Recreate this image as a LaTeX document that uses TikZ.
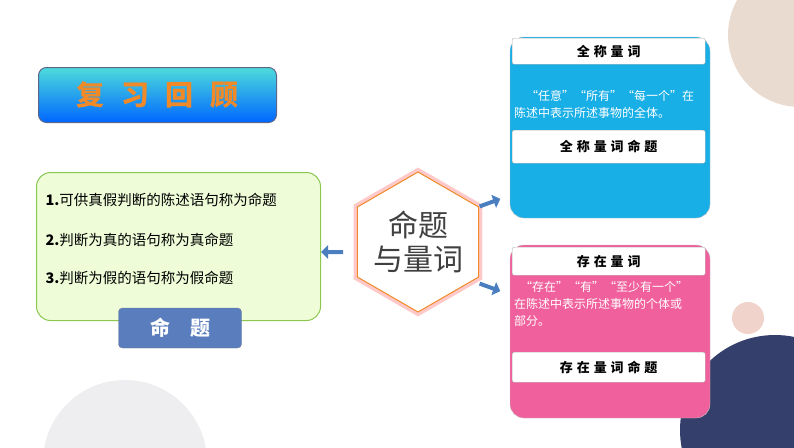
\documentclass[tikz,border=0pt]{standalone}
\usepackage{fontspec}
\setmainfont{Noto Sans CJK SC}
\usetikzlibrary{shapes.geometric,shapes.arrows,arrows.meta,shadows}
\definecolor{navyc}{HTML}{34406B}
\definecolor{beigec}{HTML}{EADBD0}
\definecolor{grayc}{HTML}{EEEEF0}
\definecolor{greenf}{HTML}{EEFCD8}
\definecolor{greenb}{HTML}{8CC850}
\definecolor{tagc}{HTML}{5A7DBD}
\definecolor{bluec}{HTML}{18AEE6}
\definecolor{pinkc}{HTML}{F0609C}
\definecolor{arrowc}{HTML}{4A7EBF}
\definecolor{orangec}{HTML}{F08A28}
\tikzset{
 hdr/.style={draw=gray!60, fill=white, rounded corners=2pt, minimum width=193pt, font=\bfseries\fontsize{13}{15}\selectfont, anchor=north west},
 body/.style={anchor=west, font=\fontsize{12}{17}\selectfont, text=white, align=left, text width=192pt, inner sep=2pt},
 ltxt/.style={anchor=west, font=\fontsize{14.5}{16}\selectfont},
 blk/.style={fill=arrowc, draw=none, single arrow, minimum height=22pt, minimum width=14pt, single arrow head extend=3pt, inner sep=1pt}
}
\begin{document}
\begin{tikzpicture}[x=1pt,y=-1pt]
\useasboundingbox (0,0) rectangle (794,447);
\begin{scope}
\clip (0,0) rectangle (794,447);
\fill[beigec] (800,35) circle (72);
\fill[grayc] (125,462) circle (82);
\fill[beigec!70!pink] (748,318) circle (16);
\fill[navyc] (775,430) circle (95);
\end{scope}
% title
\node[draw=navyc!80, line width=1pt, rounded corners=8pt, top color=cyan!60!teal!70, bottom color=blue!60!cyan, minimum width=238pt, minimum height=55pt, anchor=north west, text=orangec, font=\bfseries\fontsize{28}{30}\selectfont] (title) at (38,67) {复\hspace{0.6em}习\hspace{0.6em}回\hspace{0.6em}顾};
% left box
\node[draw=greenb, line width=1pt, fill=greenf, rounded corners=14pt, minimum width=284pt, minimum height=148pt, anchor=north west] (lbox) at (36,172) {};
\node[ltxt] (l1) at (42,200) {\textbf{1.}可供真假判断的陈述语句称为命题};
\node[ltxt] (l2) at (42,240) {\textbf{2.}判断为真的语句称为真命题};
\node[ltxt] (l3) at (42,278) {\textbf{3.}判断为假的语句称为假命题};
\node[draw=navyc!70, fill=tagc, rounded corners=4pt, minimum width=123pt, minimum height=40pt, text=white, font=\bfseries\fontsize{20}{22}\selectfont] (tag) at (180,328) {命\hspace{1em}题};
% hexagon
\node[regular polygon, regular polygon sides=6, rotate=90, draw=red!30, line width=6pt, minimum size=142pt, fill=white, opacity=0.7] (hexg) at (418,242) {};
\node[regular polygon, regular polygon sides=6, rotate=90, draw=orangec, line width=1pt, minimum size=140pt, fill=white] (hex) at (418,242) {};
\node[align=center, font=\fontsize{30}{34}\selectfont, text=black!75, draw=none] (hext) at (418,242) {命题\\与量词};
% arrows
\node[blk, shape border rotate=180] (al) at (333,252) {};
\node[blk, rotate=20] (au) at (489,203) {};
\node[blk, rotate=-20] (ad) at (489,287) {};
% top right
\path[fill=bluec, draw=gray!50, rounded corners=14pt] (510,37) -- (710,37) -- (710,218) -- (510,218) -- cycle;
\node[hdr, minimum height=26pt] (h1) at (512,38) {全\hspace{0.3em}称\hspace{0.3em}量\hspace{0.3em}词};
\node[body] (b1) at (512,104) {\hspace*{1em}“任意”“所有”“每一个”在\\陈述中表示所述事物的全体。};
\node[hdr, minimum height=33pt] (i1) at (512,130) {全\hspace{0.3em}称\hspace{0.3em}量\hspace{0.3em}词\hspace{0.3em}命\hspace{0.3em}题};
% bottom right
\path[fill=pinkc, draw=gray!50, rounded corners=14pt] (510,245) -- (710,245) -- (710,418) -- (510,418) -- cycle;
\node[hdr, minimum height=28pt] (h2) at (512,247) {存\hspace{0.3em}在\hspace{0.3em}量\hspace{0.3em}词};
\node[body] (b2) at (512,304) {\hspace*{0.5em}“存在”“有”“至少有一个”\\在陈述中表示所述事物的个体或\\部分。};
\node[hdr, minimum height=30pt] (i2) at (512,352) {存\hspace{0.3em}在\hspace{0.3em}量\hspace{0.3em}词\hspace{0.3em}命\hspace{0.3em}题};
\end{tikzpicture}
\end{document}
